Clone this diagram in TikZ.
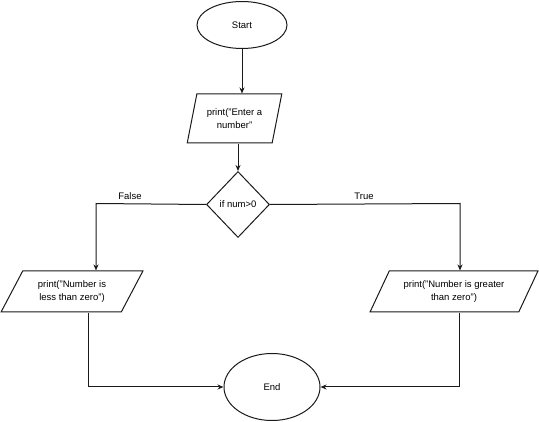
\documentclass[tikz,border=0pt]{standalone}
\usepackage{fontspec}
\setmainfont{Liberation Sans}
\usetikzlibrary{shapes.geometric,arrows.meta}
\definecolor{stroke}{HTML}{1A1A1A}

\begin{document}
\begin{tikzpicture}[x=1pt, y=-1pt, >={Stealth[length=6pt,width=5pt]},
        every node/.style={font=\fontsize{9.5}{12.5}\selectfont},
        line/.style={draw=stroke, line width=1pt},
        terminal/.style={ellipse, line, inner sep=0pt},
        io/.style={trapezium, trapezium stretches=true, line, align=center, inner sep=0pt},
        test/.style={diamond, line, inner sep=0pt, minimum width=63pt, minimum height=66pt}]
        \useasboundingbox (0,0) rectangle (539,422);
        % Start and input
        \node[terminal, minimum width=90pt, minimum height=47pt] (start) at (242,25) {Start};
        \node[io, trapezium left angle=70, trapezium right angle=110,
            minimum width=95pt, minimum height=49pt] (input) at (234.5,118.5) {print("Enter a\\number"};
        % Decision
        \node[test] (check) at (238,204.5) {if num>0};
        \node (false) at (130,196) {False};
        \node (true) at (364,196) {True};
        % Output boxes
        \node[io, trapezium left angle=55, trapezium right angle=125,
            minimum width=142pt, minimum height=41pt] (less) at (72,291.5) {print("Number is\\less than zero")};
        \node[io, trapezium left angle=55, trapezium right angle=125,
            minimum width=168pt, minimum height=41pt] (greater) at (454,291.5) {print("Number is greater\\than zero")};
        % End
        \node[terminal, minimum width=96pt, minimum height=67pt] (stop) at (272,387) {End};
        % Bends
        \coordinate (fturn) at (96,203.5);
        \coordinate (tturn) at (460,203.5);
        \coordinate (fdown) at (88,387);
        \coordinate (tdown) at (459,387);
        % Connectors
        \draw[line, ->] (start.south) -- (start.south |- input.north);
        \draw[line, ->] (check.north |- input.south) -- (check.north);
        \draw[line, ->] (check.west) -- (fturn) -- (fturn |- less.north);
        \draw[line, ->] (check.east) -- (tturn) -- (tturn |- greater.north);
        \draw[line, ->] (fdown |- less.south) -- (fdown) -- (stop.west);
        \draw[line, ->] (tdown |- greater.south) -- (tdown) -- (stop.east);
\end{tikzpicture}
\end{document}
